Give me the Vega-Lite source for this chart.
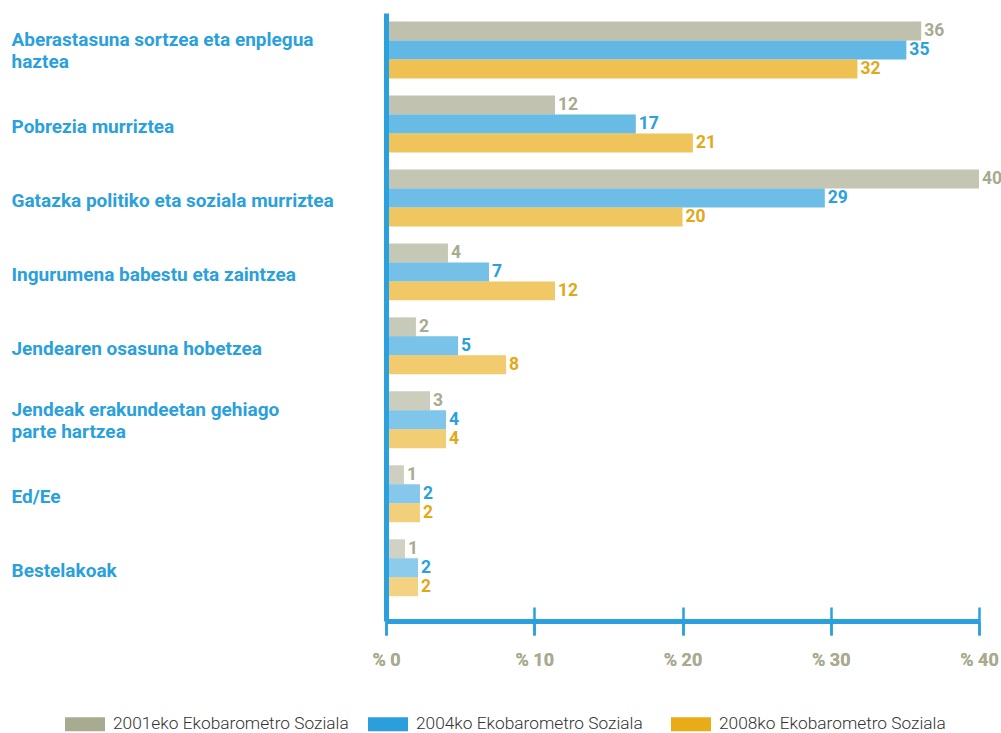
{
  "$schema": "https://vega.github.io/schema/vega-lite/v6.json",
  "width": 593,
  "height": 608,
  "autosize": {"type": "none"},
  "padding": {"left": 386, "top": 13, "right": 22, "bottom": 112},
  "background": "white",
  "config": {"view": {"stroke": null}, "font": "Roboto"},
  "data": {"values": [
    {"cat": "Aberastasuna sortzea eta enplegua haztea", "series": "2001eko Ekobarometro Soziala", "value": 36.1, "label": "36"},
    {"cat": "Aberastasuna sortzea eta enplegua haztea", "series": "2004ko Ekobarometro Soziala", "value": 35.1, "label": "35"},
    {"cat": "Aberastasuna sortzea eta enplegua haztea", "series": "2008ko Ekobarometro Soziala", "value": 31.8, "label": "32"},
    {"cat": "Pobrezia murriztea", "series": "2001eko Ekobarometro Soziala", "value": 11.4, "label": "12"},
    {"cat": "Pobrezia murriztea", "series": "2004ko Ekobarometro Soziala", "value": 16.85, "label": "17"},
    {"cat": "Pobrezia murriztea", "series": "2008ko Ekobarometro Soziala", "value": 20.7, "label": "21"},
    {"cat": "Gatazka politiko eta soziala murriztea", "series": "2001eko Ekobarometro Soziala", "value": 40.0, "label": "40"},
    {"cat": "Gatazka politiko eta soziala murriztea", "series": "2004ko Ekobarometro Soziala", "value": 29.6, "label": "29"},
    {"cat": "Gatazka politiko eta soziala murriztea", "series": "2008ko Ekobarometro Soziala", "value": 20.0, "label": "20"},
    {"cat": "Ingurumena babestu eta zaintzea", "series": "2001eko Ekobarometro Soziala", "value": 4.18, "label": "4"},
    {"cat": "Ingurumena babestu eta zaintzea", "series": "2004ko Ekobarometro Soziala", "value": 6.95, "label": "7"},
    {"cat": "Ingurumena babestu eta zaintzea", "series": "2008ko Ekobarometro Soziala", "value": 11.4, "label": "12"},
    {"cat": "Jendearen osasuna hobetzea", "series": "2001eko Ekobarometro Soziala", "value": 2.02, "label": "2"},
    {"cat": "Jendearen osasuna hobetzea", "series": "2004ko Ekobarometro Soziala", "value": 4.86, "label": "5"},
    {"cat": "Jendearen osasuna hobetzea", "series": "2008ko Ekobarometro Soziala", "value": 8.1, "label": "8"},
    {"cat": "Jendeak erakundeetan gehiago parte hartzea", "series": "2001eko Ekobarometro Soziala", "value": 2.97, "label": "3"},
    {"cat": "Jendeak erakundeetan gehiago parte hartzea", "series": "2004ko Ekobarometro Soziala", "value": 4.05, "label": "4"},
    {"cat": "Jendeak erakundeetan gehiago parte hartzea", "series": "2008ko Ekobarometro Soziala", "value": 4.05, "label": "4"},
    {"cat": "Ed/Ee", "series": "2001eko Ekobarometro Soziala", "value": 1.21, "label": "1"},
    {"cat": "Ed/Ee", "series": "2004ko Ekobarometro Soziala", "value": 2.29, "label": "2"},
    {"cat": "Ed/Ee", "series": "2008ko Ekobarometro Soziala", "value": 2.29, "label": "2"},
    {"cat": "Bestelakoak", "series": "2001eko Ekobarometro Soziala", "value": 1.28, "label": "1"},
    {"cat": "Bestelakoak", "series": "2004ko Ekobarometro Soziala", "value": 2.16, "label": "2"},
    {"cat": "Bestelakoak", "series": "2008ko Ekobarometro Soziala", "value": 2.16, "label": "2"}
  ]},
  "encoding": {
    "y": {
      "field": "cat", "type": "nominal", "sort": null,
      "scale": {"paddingInner": 0, "paddingOuter": 0.11, "align": 0},
      "axis": {
        "title": null, "ticks": false, "domain": true, "domainColor": "#2aa0dc", "domainWidth": 5,
        "zindex": 1,
        "labelAlign": "left", "labelPadding": 375, "labelLimit": 370, "labelBaseline": "middle",
        "labelFont": "Roboto", "labelFontWeight": "bold", "labelFontSize": 19,
        "labelColor": "#2aa0dc", "labelLineHeight": 22,
        "labelOffset": {"condition": {"test": "datum.value == 'Aberastasuna sortzea eta enplegua haztea' || datum.value == 'Jendeak erakundeetan gehiago parte hartzea'", "value": -10}, "value": 3},
        "labelExpr": "datum.label == 'Aberastasuna sortzea eta enplegua haztea' ? ['Aberastasuna sortzea eta enplegua', 'haztea'] : datum.label == 'Jendeak erakundeetan gehiago parte hartzea' ? ['Jendeak erakundeetan gehiago', 'parte hartzea'] : datum.label"
      }
    },
    "yOffset": {"field": "series", "type": "nominal", "sort": null, "scale": {"paddingInner": 0, "paddingOuter": 0.447}},
    "x": {
      "field": "value", "type": "quantitative",
      "scale": {"domain": [0, 40], "nice": false},
      "axis": {
        "title": null, "orient": "bottom", "values": [0, 10, 20, 30, 40], "grid": false,
        "domainColor": "#2aa0dc", "domainWidth": 5, "tickColor": "#2aa0dc", "tickWidth": 2.5, "tickSize": 14,
        "labelPadding": 16, "labelFont": "Roboto", "labelFontWeight": "bold", "labelFontSize": 18,
        "labelColor": "#a8ab8f", "labelFlush": false, "labelExpr": "'% ' + datum.value", "zindex": 1
      }
    }
  },
  "layer": [
    {
      "mark": {"type": "bar"},
      "encoding": {
        "color": {
          "field": "series", "type": "nominal", "sort": null,
          "scale": {"range": ["#a8ab90", "#2a9fdb", "#e8ac16"]},
          "legend": {
            "orient": "none", "legendX": -321, "legendY": 691, "direction": "horizontal", "columns": 3,
            "gridAlign": "all",
            "title": null, "symbolType": "M-1,-0.35H1V0.35H-1Z", "symbolSize": 1600, "symbolStrokeWidth": 0,
            "symbolOpacity": 1, "labelFontSize": 17.3, "labelFont": "Roboto", "labelFontWeight": 300, "labelColor": "#333333",
            "labelOffset": 8, "columnPadding": 19, "labelLimit": 400
          }
        },
        "opacity": {
          "field": "cat", "type": "nominal", "sort": null, "legend": null,
          "scale": {
            "domain": ["Aberastasuna sortzea eta enplegua haztea", "Pobrezia murriztea", "Gatazka politiko eta soziala murriztea", "Ingurumena babestu eta zaintzea", "Jendearen osasuna hobetzea", "Jendeak erakundeetan gehiago parte hartzea", "Ed/Ee", "Bestelakoak"],
            "range": [0.74, 0.54, 0.63, 0.44, 0.4, 0.36, 0.27, 0.27]
          }
        }
      }
    },
    {
      "mark": {"type": "text", "align": "left", "baseline": "middle", "dx": 3, "fontSize": 17.5, "fontWeight": "bold", "font": "Roboto"},
      "encoding": {
        "text": {"field": "label"},
        "color": {"field": "series", "type": "nominal", "sort": null, "scale": {"range": ["#a8ab8f", "#2aa0dc", "#e3a816"]}, "legend": null}
      }
    },
    {
      "mark": {"type": "point", "opacity": 0},
      "encoding": {
        "x": {
          "field": "value", "type": "quantitative",
          "scale": {"domain": [0, 40], "nice": false},
          "axis": {"title": null, "orient": "bottom", "values": [0, 10, 20, 30, 40], "grid": false, "domain": false, "labels": false,
            "tickColor": "#2aa0dc", "tickWidth": 2.5, "tickSize": -14, "zindex": 1}
        }
      }
    }
  ],
  "resolve": {"scale": {"color": "independent"}, "axis": {"x": "independent"}}
}
